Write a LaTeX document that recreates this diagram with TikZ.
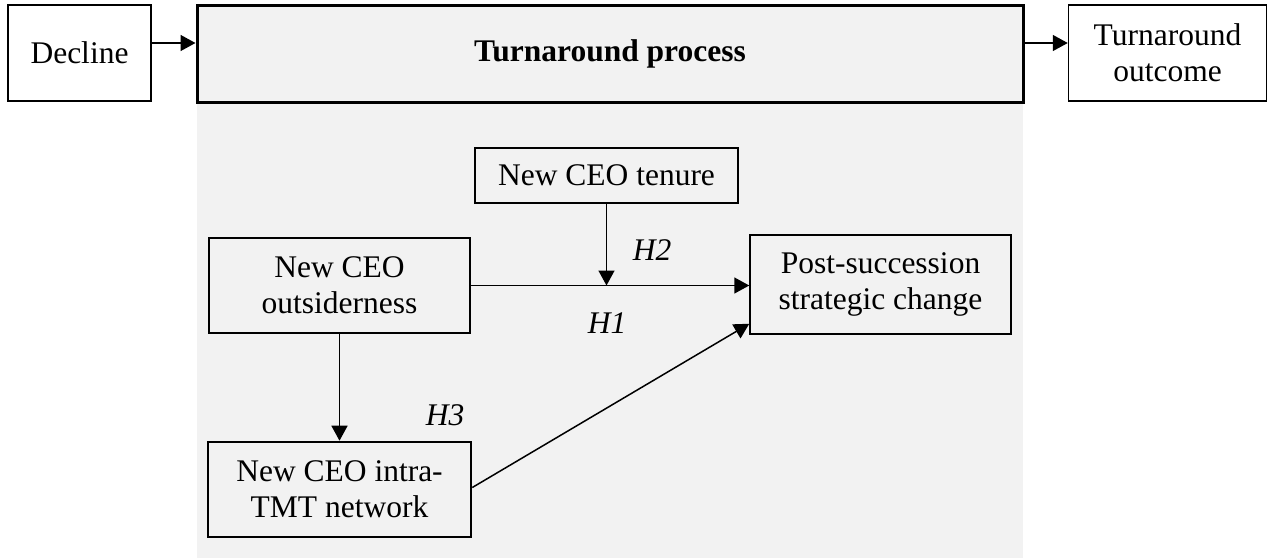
\documentclass[tikz,border=0pt]{standalone}
\usepackage{fontspec}
\setmainfont{Liberation Serif}
\usetikzlibrary{arrows.meta}
\definecolor{bggray}{HTML}{F2F2F2}
\begin{document}
\begin{tikzpicture}[x=0.5pt,y=-0.5pt,
  box/.style={draw=black,line width=0.75pt,align=center,inner sep=0pt,
    font=\fontsize{15.75}{18}\selectfont},
  arr/.style={line width=0.75pt,-{Triangle[length=7.5pt,width=8pt]}},
  hlab/.style={font=\fontsize{15.75}{18}\selectfont\itshape,inner sep=0pt}]
\useasboundingbox (0,0) rectangle (1268,558);
\fill[bggray] (197,5) rectangle (1023,558);
\node[box,minimum width=71.5pt,minimum height=48pt,fill=white] (decl) at (79.5,53) {Decline};
\node[box,line width=1.5pt,minimum width=413pt,minimum height=48.5pt,fill=bggray,font=\fontsize{15.75}{18}\selectfont\bfseries] (proc) at (610,53.5) {Turnaround process};
\node[box,minimum width=99pt,minimum height=48pt,fill=white] (outc) at (1167.5,53) {Turnaround\\outcome};
\node[box,minimum width=131.5pt,minimum height=27.5pt] (ten) at (606.5,175.5) {New CEO tenure};
\node[box,minimum width=130.5pt,minimum height=47.5pt] (outs) at (339.5,285.5) {New CEO\\outsiderness};
\node[box,minimum width=130.5pt,minimum height=49.5pt] (post) at (880.5,284.5) {Post-succession\\strategic change};
\node[box,line width=1.3pt,minimum width=131.5pt,minimum height=47.5pt] (intra) at (339.5,489.5) {New CEO intra-\\TMT network};
\coordinate (ya) at (0,43);
\draw[arr] (decl.east |- ya) -- (proc.west |- ya);
\draw[arr] (proc.east |- ya) -- (outc.west |- ya);
\draw[arr] (outs.east) -- (outs.east -| post.west);
\draw[arr] (ten.south) -- (ten.south |- outs.east);
\draw[arr] (outs.south) -- (intra.north);
\draw[arr] ([yshift=1pt]intra.east) -- ([yshift=5.5pt]post.south west);
\node[hlab] (h2) at (652,250) {H2};
\node[hlab] (h1) at (607,323) {H1};
\node[hlab] (h3) at (445,415) {H3};
\end{tikzpicture}
\end{document}
